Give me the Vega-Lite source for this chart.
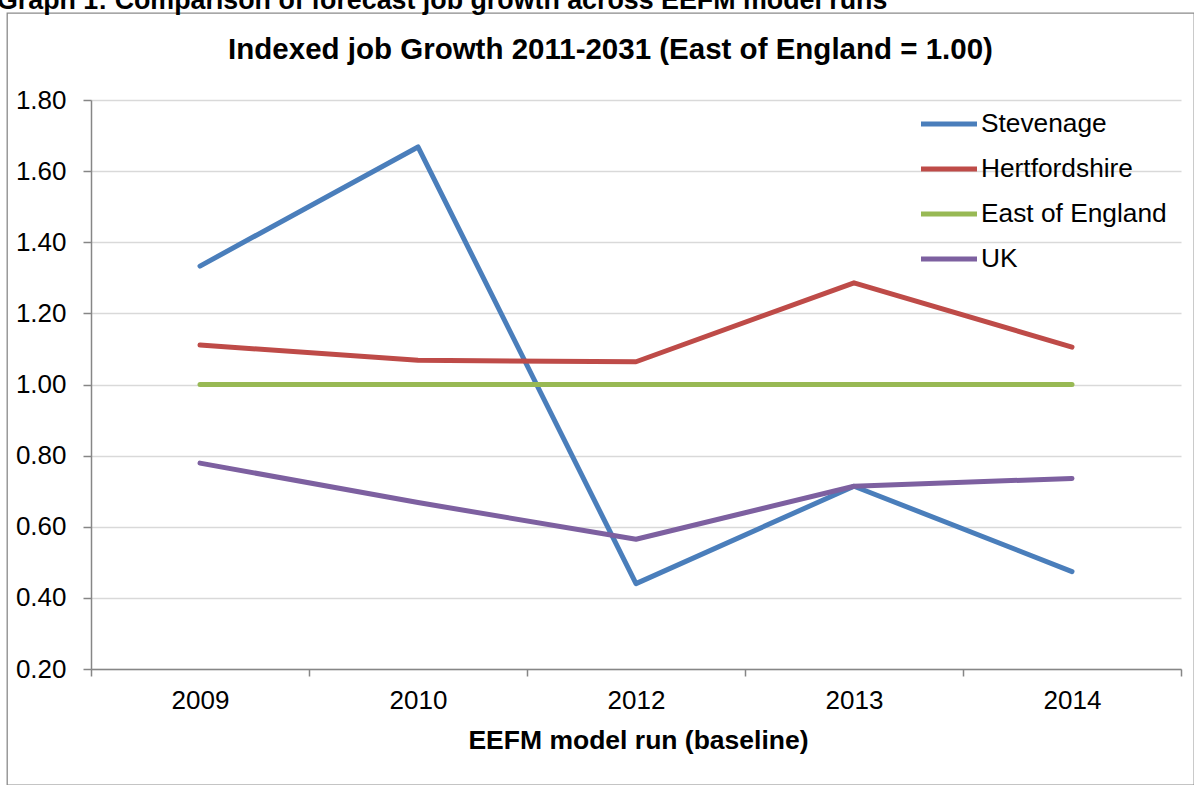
{
  "$schema": "https://vega.github.io/schema/vega-lite/v6.json",
  "width": 1187,
  "height": 772,
  "autosize": {"type": "none"},
  "padding": {"left": 7, "top": 13, "right": 0, "bottom": 0},
  "background": "white",
  "config": {
    "view": {"stroke": "#8a8a8a", "strokeWidth": 1.3},
    "font": "Liberation Sans"
  },
  "title": {
    "text": "Graph 1: Comparison of forecast job growth across EEFM model runs",
    "anchor": "start",
    "frame": "bounds",
    "align": "left",
    "baseline": "alphabetic",
    "offset": 0,
    "dx": -10,
    "dy": 23,
    "fontSize": 26.8,
    "fontWeight": "bold",
    "color": "black",
    "font": "Liberation Sans"
  },
  "data": {
    "values": [
      {"run": "2009", "series": "Stevenage", "value": 1.333},
      {"run": "2010", "series": "Stevenage", "value": 1.668},
      {"run": "2012", "series": "Stevenage", "value": 0.440},
      {"run": "2013", "series": "Stevenage", "value": 0.714},
      {"run": "2014", "series": "Stevenage", "value": 0.474},
      {"run": "2009", "series": "Hertfordshire", "value": 1.111},
      {"run": "2010", "series": "Hertfordshire", "value": 1.068},
      {"run": "2012", "series": "Hertfordshire", "value": 1.064},
      {"run": "2013", "series": "Hertfordshire", "value": 1.286},
      {"run": "2014", "series": "Hertfordshire", "value": 1.105},
      {"run": "2009", "series": "East of England", "value": 1.0},
      {"run": "2010", "series": "East of England", "value": 1.0},
      {"run": "2012", "series": "East of England", "value": 1.0},
      {"run": "2013", "series": "East of England", "value": 1.0},
      {"run": "2014", "series": "East of England", "value": 1.0},
      {"run": "2009", "series": "UK", "value": 0.779},
      {"run": "2010", "series": "UK", "value": 0.668},
      {"run": "2012", "series": "UK", "value": 0.565},
      {"run": "2013", "series": "UK", "value": 0.714},
      {"run": "2014", "series": "UK", "value": 0.736}
    ]
  },
  "mark": {"type": "line", "strokeWidth": 5, "strokeCap": "round", "strokeJoin": "round"},
  "encoding": {
    "x": {
      "field": "run",
      "type": "ordinal",
      "scale": {"type": "band", "range": [84, 1174], "paddingInner": 0, "paddingOuter": 0},
      "axis": {
        "orient": "bottom",
        "offset": -116,
        "tickBand": "extent",
        "labelAngle": 0,
        "domainColor": "#868686",
        "domainWidth": 1.5,
        "tickColor": "#868686",
        "tickWidth": 1.5,
        "tickSize": 7,
        "labelFontSize": 26,
        "labelColor": "black",
        "labelFont": "Liberation Sans",
        "labelPadding": 11.5,
        "grid": false,
        "title": "EEFM model run (baseline)",
        "titleFontSize": 26.5,
        "titleFontWeight": "bold",
        "titleColor": "black",
        "titleFont": "Liberation Sans",
        "titleBaseline": "alphabetic",
        "titleX": 631,
        "titleY": 79
      }
    },
    "y": {
      "field": "value",
      "type": "quantitative",
      "scale": {"domain": [0.2, 1.8], "range": [656, 87], "nice": false, "zero": false},
      "axis": {
        "orient": "left",
        "offset": -84,
        "values": [0.2, 0.4, 0.6, 0.8, 1.0, 1.2, 1.4, 1.6, 1.8],
        "format": ".2f",
        "domainColor": "#868686",
        "domainWidth": 1.5,
        "tickColor": "#868686",
        "tickWidth": 1.5,
        "tickSize": 8,
        "labelFontSize": 26,
        "labelColor": "black",
        "labelFont": "Liberation Sans",
        "labelPadding": 17,
        "grid": true,
        "gridColor": "#d9d9d9",
        "gridWidth": 1.5,
        "title": "Indexed job Growth 2011-2031 (East of England = 1.00)",
        "titleAngle": 0,
        "titleX": 519,
        "titleY": 45.3,
        "titleAlign": "center",
        "titleBaseline": "alphabetic",
        "titleFontSize": 29.5,
        "titleFontWeight": "bold",
        "titleColor": "black",
        "titleFont": "Liberation Sans"
      }
    },
    "color": {
      "field": "series",
      "type": "nominal",
      "scale": {
        "domain": ["Stevenage", "Hertfordshire", "East of England", "UK"],
        "range": ["#4a7ebb", "#be4b48", "#98b954", "#7d60a0"]
      },
      "legend": {
        "orient": "none",
        "legendX": 925.5,
        "legendY": 94.5,
        "title": null,
        "symbolType": "M-2,0H2",
        "symbolSize": 784,
        "symbolStrokeWidth": 5,
        "labelFontSize": 26.3,
        "labelOffset": 15.5,
        "rowPadding": 15,
        "padding": 0,
        "labelColor": "black",
        "labelFont": "Liberation Sans",
        "labelLimit": 400
      }
    }
  }
}
